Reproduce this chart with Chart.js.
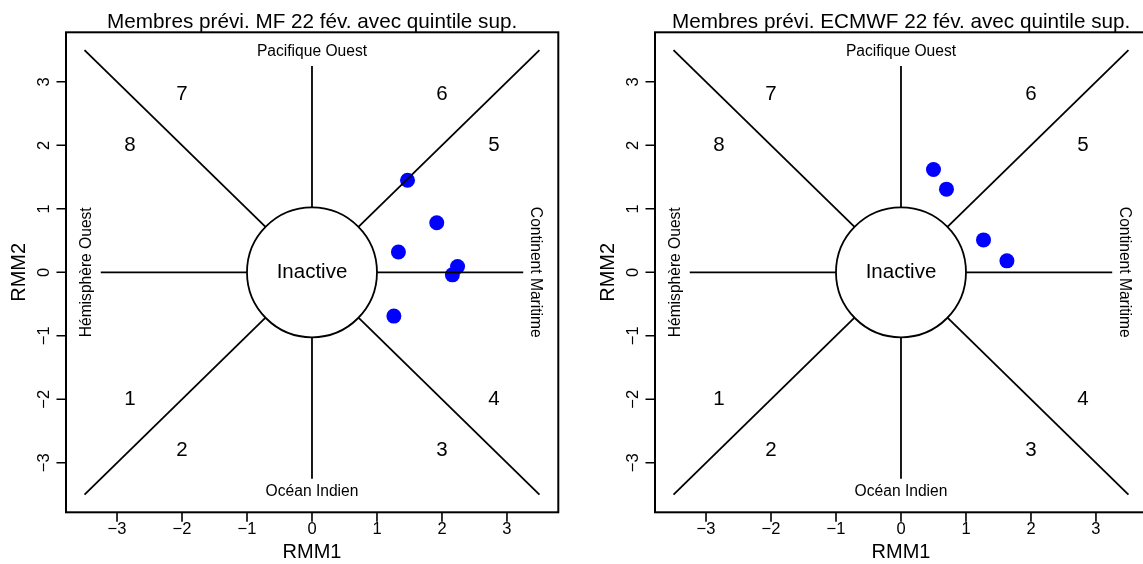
<!DOCTYPE html>
<html>
<head>
<meta charset="utf-8">
<script src="https://cdn.jsdelivr.net/npm/chart.js@4"></script>
<style>
  html, body { margin: 0; padding: 0; background: #ffffff; overflow: hidden; }
  body { width: 1143px; height: 564px; position: relative; }
  .panel { position: absolute; top: 0; width: 589px; height: 564px; }
</style>
</head>
<body>
<div class="panel" style="left:0px"><canvas id="chartMF" width="589" height="564"></canvas></div>
<div class="panel" style="left:589px"><canvas id="chartEC" width="589" height="564"></canvas></div>
<script>
// Ensemble members (RMM1, RMM2) in the upper quintile
const mfX = [1.47, 1.92, 1.33, 2.24, 2.16, 1.26];
const mfY = [1.45, 0.78, 0.32, 0.09, -0.04, -0.69];
const ecX = [0.50, 0.70, 1.27, 1.63];
const ecY = [1.62, 1.31, 0.51, 0.18];

const tickValues = [-3, -2, -1, 0, 1, 2, 3];

// Phase diagram frame: spokes [x1, y1, x2, y2] in RMM units
const r45 = Math.SQRT1_2;
const spokes = [
    [-3.5, 3.5, -r45, r45],
    [3.5, 3.5, r45, r45],
    [-3.5, -3.5, -r45, -r45],
    [3.5, -3.5, r45, -r45],
    [0, 1, 0, 3.25],
    [0, -1, 0, -3.25],
    [-1, 0, -3.25, 0],
    [1, 0, 3.25, 0]
];
const phaseNames = ['1', '2', '3', '4', '5', '6', '7', '8'];
const phaseX = [-2.8, -2.0, 2.0, 2.8, 2.8, 2.0, -2.0, -2.8];
const phaseY = [-2.0, -2.8, -2.8, -2.0, 2.0, 2.8, 2.8, 2.0];

const FONT = '"Liberation Sans", Arial, Helvetica, sans-serif';

function drawText(ctx, text, x, y, size, rot) {
    ctx.save();
    ctx.translate(x, y);
    if (rot) ctx.rotate(rot);
    ctx.font = size + 'px ' + FONT;
    ctx.fillStyle = '#000000';
    ctx.textAlign = 'center';
    ctx.textBaseline = 'middle';
    ctx.fillText(text, 0, 0);
    ctx.restore();
}

const frame = {
    id: 'frame',
    afterDatasetsDraw(chart, args, opts) {
        const ctx = chart.ctx;
        const xs = chart.scales.x;
        const ys = chart.scales.y;
        const area = chart.chartArea;
        const x0 = xs.getPixelForValue(0);
        const y0 = ys.getPixelForValue(0);

        // central circle
        const rad = xs.getPixelForValue(1) - x0;
        ctx.save();
        ctx.beginPath();
        ctx.arc(x0, y0, rad, 0, Math.PI * 2);
        ctx.fillStyle = '#ffffff';
        ctx.fill();
        ctx.lineWidth = 1.8;
        ctx.strokeStyle = '#000000';
        ctx.stroke();
        ctx.restore();
        drawText(ctx, 'Inactive', x0, y0, 20.5);

        // phase numbers
        phaseNames.forEach((p, i) => {
            drawText(ctx, p, xs.getPixelForValue(phaseX[i]), ys.getPixelForValue(phaseY[i]), 20.5);
        });

        // region names
        drawText(ctx, 'Pacifique Ouest', x0, ys.getPixelForValue(3.47), 15.6);
        drawText(ctx, 'Océan Indien', x0, ys.getPixelForValue(-3.45), 15.6);
        drawText(ctx, 'Hémisphère Ouest', xs.getPixelForValue(-3.46), y0, 15.6, -Math.PI / 2);
        drawText(ctx, 'Continent Maritime', xs.getPixelForValue(3.43), y0, 15.6, Math.PI / 2);

        // box
        ctx.save();
        ctx.lineWidth = 2;
        ctx.strokeStyle = '#000000';
        ctx.strokeRect(area.left, area.top, area.right - area.left, area.bottom - area.top);

        // ticks
        ctx.lineWidth = 1.6;
        ctx.beginPath();
        tickValues.forEach(v => {
            const px = xs.getPixelForValue(v);
            ctx.moveTo(px, area.bottom);
            ctx.lineTo(px, area.bottom + 9.5);
            const py = ys.getPixelForValue(v);
            ctx.moveTo(area.left, py);
            ctx.lineTo(area.left - 9.5, py);
        });
        ctx.stroke();
        ctx.restore();

        tickValues.forEach(v => {
            const lab = v < 0 ? '\u2212' + Math.abs(v) : String(v);
            drawText(ctx, lab, xs.getPixelForValue(v), area.bottom + 17, 16.5);
            drawText(ctx, lab, area.left - 22, ys.getPixelForValue(v), 16.5, -Math.PI / 2);
        });

        // titles
        drawText(ctx, 'RMM1', x0, area.bottom + 40, 20);
        drawText(ctx, 'RMM2', 19, y0, 20, -Math.PI / 2);
        ctx.save();
        ctx.font = '20.7px ' + FONT;
        ctx.fillStyle = '#000000';
        ctx.textAlign = 'center';
        ctx.textBaseline = 'alphabetic';
        ctx.fillText(opts.title, (area.left + area.right) / 2, 28);
        ctx.restore();
    }
};

function makeChart(id, title, xs, ys) {
    const datasets = spokes.map(s => ({
        type: 'line',
        data: [{ x: s[0], y: s[1] }, { x: s[2], y: s[3] }],
        borderColor: '#000000',
        borderWidth: 1.8,
        pointRadius: 0,
        fill: false,
        order: 0
    }));
    datasets.push({
        type: 'scatter',
        data: xs.map((x, i) => ({ x: x, y: ys[i] })),
        backgroundColor: '#0000ff',
        borderWidth: 0,
        pointRadius: 7.5,
        order: 1
    });

    return new Chart(document.getElementById(id).getContext('2d'), {
        type: 'scatter',
        data: { datasets: datasets },
        options: {
            responsive: false,
            devicePixelRatio: 1,
            animation: false,
            events: [],
            layout: { padding: { left: 66, right: 30.7, top: 32.3, bottom: 51.7 } },
            scales: {
                x: { type: 'linear', min: -3.785, max: 3.79, display: false },
                y: { type: 'linear', min: -3.78, max: 3.78, display: false }
            },
            plugins: {
                legend: { display: false },
                tooltip: { enabled: false },
                frame: { title: title }
            }
        },
        plugins: [frame]
    });
}

makeChart('chartMF', 'Membres prévi. MF 22 fév. avec quintile sup.', mfX, mfY);
makeChart('chartEC', 'Membres prévi. ECMWF 22 fév. avec quintile sup.', ecX, ecY);
</script>
</body>
</html>
